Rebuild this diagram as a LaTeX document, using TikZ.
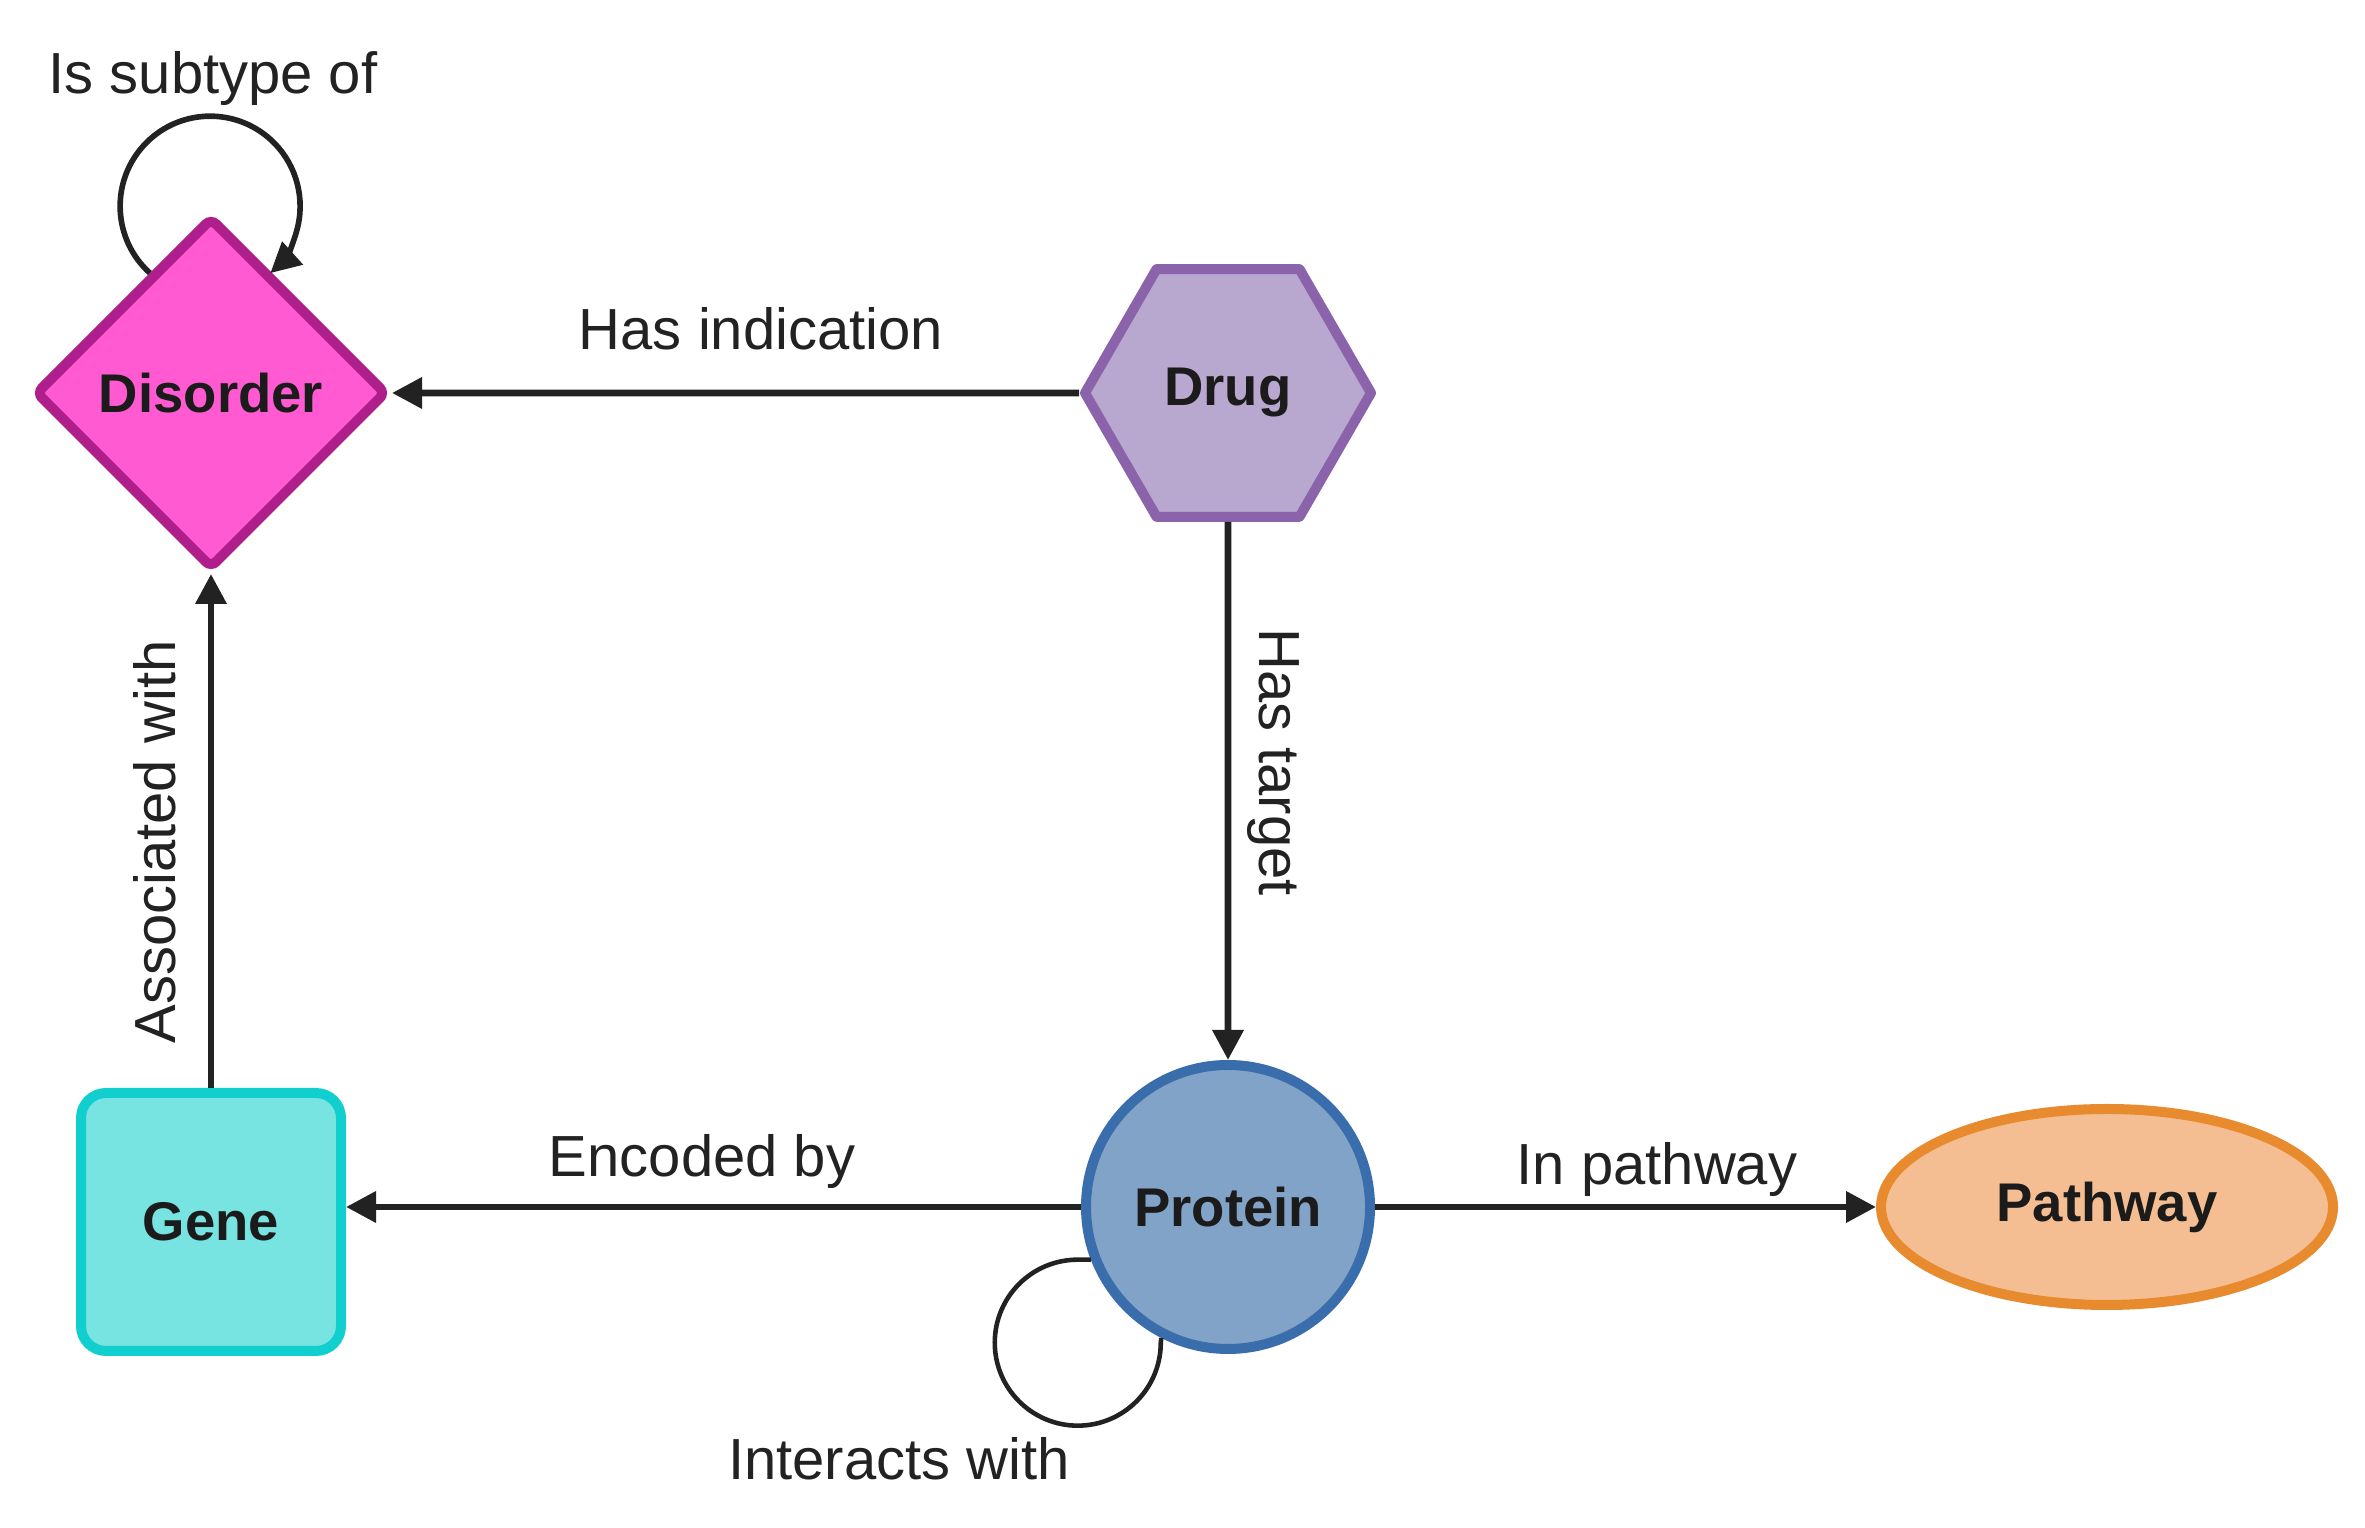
\documentclass[tikz,border=0pt]{standalone}
\usepackage{fontspec}
\setmainfont{Liberation Sans}
\usepackage{tikz}
\usetikzlibrary{shapes.geometric,arrows.meta,positioning}
\definecolor{ink}{HTML}{222222}
\definecolor{disfill}{HTML}{FF5AD2}
\definecolor{disline}{HTML}{AE1F8C}
\definecolor{drugfill}{HTML}{B8A7CF}
\definecolor{drugline}{HTML}{8A63AA}
\definecolor{protfill}{HTML}{82A3C8}
\definecolor{protline}{HTML}{3A6DAB}
\definecolor{pathfill}{HTML}{F5BE92}
\definecolor{pathline}{HTML}{E88A2E}
\definecolor{genefill}{HTML}{77E4E2}
\definecolor{geneline}{HTML}{12CFCF}

\begin{document}
\begin{tikzpicture}[
    entity/.style={
        draw, line width=0.1cm, inner sep=0pt, text=ink!80!black,
        font=\fontsize{15.5}{18}\selectfont\bfseries,
    },
    disorderbox/.style={
        entity, diamond, draw=disline, fill=disfill,
        minimum width=3.52cm, minimum height=3.52cm, rounded corners=2pt,
    },
    drugbox/.style={
        entity, regular polygon, regular polygon sides=6, draw=drugline,
        fill=drugfill, minimum size=2.86cm, line join=round,
    },
    protbox/.style={
        entity, circle, draw=protline, fill=protfill, minimum size=2.84cm,
    },
    pathbox/.style={
        entity, ellipse, draw=pathline, fill=pathfill,
        minimum width=4.52cm, minimum height=1.96cm,
    },
    genebox/.style={
        entity, rectangle, draw=geneline, fill=genefill, rounded corners=0.25cm,
        minimum width=2.6cm, minimum height=2.58cm,
    },
    arrow/.style={-{Triangle[length=3mm,width=3mm]}, line width=1.9pt, color=ink},
    link/.style={line width=1.3pt, color=ink},
    edgetext/.style={font=\fontsize{16.5}{20}\selectfont, text=ink, inner sep=0pt, anchor=base},
]
\useasboundingbox (0,0) rectangle (23.65,15.28);

% Wezly
\node[disorderbox] (disorder) at (2.11,11.35) {Disorder};
\node[drugbox] (drug) at (12.28,11.35) {Drug};
\node[protbox] (protein) at (12.28,3.21) {Protein};
\node[pathbox] (pathway) at (21.07,3.21) {Pathway};
\node[genebox] (gene) at (2.11,3.06) {Gene};

% Polaczenia
\draw[arrow] (drug.west) -- (disorder.east);
\draw[arrow] (drug.south) -- (protein.north);
\draw[arrow] (protein.west) -- (protein.west -| gene.east);
\draw[arrow] (protein.east) -- (pathway.west);
\draw[arrow] (gene.north) -- (disorder.south);

% Petle
\draw[arrow, line width=1.6pt] (disorder.117)
    arc[start angle=228, end angle=-48, radius=0.9];
\draw[link] (protein.201.5) -- ++(-0.13,0)
    arc[start angle=90, end angle=360, radius=0.83] -- (protein.243);

% Opisy
\node[edgetext] (lsubtype) at (2.13,14.34) {Is subtype of};
\node[edgetext] (lindication) at (7.61,11.78) {Has indication};
\node[edgetext, rotate=-90] (ltarget) at (12.59,7.66) {Has target};
\node[edgetext, rotate=90] (lassoc) at (1.75,6.86) {Associated with};
\node[edgetext] (lencoded) at (7.02,3.51) {Encoded by};
\node[edgetext] (lpathway) at (16.57,3.43) {In pathway};
\node[edgetext] (linteracts) at (8.99,0.48) {Interacts with};

\end{tikzpicture}
\end{document}
